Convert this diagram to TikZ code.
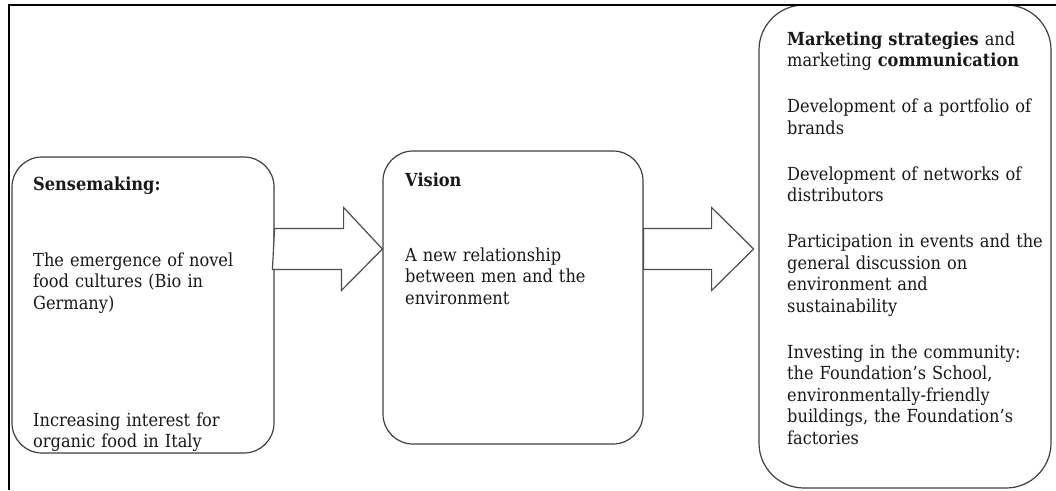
\documentclass[tikz,border=0pt]{standalone}
\usepackage{fontspec}
\setmainfont[FakeStretch=0.9]{DejaVu Serif}
\usepackage{tikz}
\usetikzlibrary{calc, positioning}

\begin{document}
\begin{tikzpicture}[x=1pt, y=-1pt]
    \tikzstyle{box} = [rectangle, rounded corners=30pt, draw=black!75,
        line width=1.2pt, fill=white]
    \tikzstyle{txt} = [anchor=base west, align=left, inner sep=0pt,
        text width=400pt, font=\fontsize{18}{21.5}\selectfont, text=black!90]
    \tikzstyle{bigarrow} = [draw=black!70, line width=1.2pt, fill=white,
        line join=miter]
    \tikzstyle{frame} = [line width=2.5pt, black]

    \useasboundingbox (0,0) rectangle (1056,490);

    \node (sense) [box, minimum width=262pt, minimum height=296pt] at (143,305) {};
    \node (vision) [box, minimum width=260pt, minimum height=293pt] at (513,297.5) {};
    \node (market) [box, rounded corners=45pt, minimum width=292pt,
        minimum height=483pt] at (905,246.5) {};

    % Box texts start at the first baseline; the gaps between paragraphs
    % are uneven in the original, so they are given one by one.
    \node (sensetxt) [txt] at (33,190) {\textbf{Sensemaking:} \\[54.5pt]
        The emergence of novel \\ food cultures (Bio in \\ Germany) \\[95.5pt]
        Increasing interest for \\ organic food in Italy};
    \node (visiontxt) [txt] at (405,186) {\textbf{Vision} \\[53.5pt]
        A new relationship \\ between men and the \\ environment};
    \node (markettxt) [txt] at (787,45) {\textbf{Marketing strategies} and \\
        marketing \textbf{communication} \\[24.5pt]
        Development of a portfolio of \\ brands \\[24.5pt]
        Development of networks of \\ distributors \\[24.5pt]
        Participation in events and the \\ general discussion on \\
        environment and \\ sustainability \\[24.5pt]
        Investing in the community: \\ the Foundation’s School, \\
        environmentally-friendly \\ buildings, the Foundation’s \\ factories};

    % Both block arrows sit on the same height, not on the box centres.
    \coordinate (mid) at (0,249);
    \draw [bigarrow] (sense.east |- mid) ++(0,-20.5) -- ++(69,0) -- ++(0,-21)
        -- (vision.west |- mid) -- ++(-41,41.5) -- ++(0,-21) -- ++(-69,0) -- cycle;
    \draw [bigarrow] (vision.east |- mid) ++(0,-20.5) -- ++(68,0) -- ++(0,-21)
        -- ++(42,41.5) -- ++(-42,41.5) -- ++(0,-21) -- ++(-68,0) -- cycle;

    \draw [frame] (9,490) -- (9,5) -- (1056,5);
\end{tikzpicture}
\end{document}
